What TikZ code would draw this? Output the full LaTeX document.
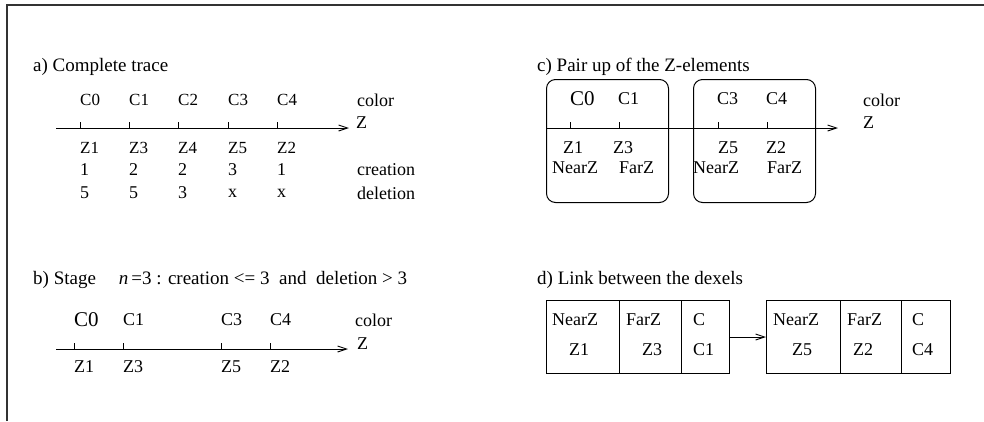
\documentclass[tikz,border=0pt]{standalone}
\usepackage{fontspec}
\setmainfont{Liberation Serif}
\usetikzlibrary{arrows.meta}

\begin{document}
\begin{tikzpicture}[x=1pt,y=-1pt,
  lbl/.style={anchor=west,inner sep=0pt,font=\fontsize{17}{17}\selectfont},
  lbm/.style={anchor=west,inner sep=0pt,font=\fontsize{18}{18}\selectfont},
  lbb/.style={anchor=west,inner sep=0pt,font=\fontsize{21}{21}\selectfont},
  ttl/.style={anchor=base west,inner sep=0pt,font=\fontsize{19}{19}\selectfont},
  axis/.style={line width=0.9pt,-{Straight Barb[length=9pt,width=6pt]}},
  tickmark/.style={line width=0.8pt},
  frameline/.style={line width=1.3pt,black!80},
  rbox/.style={draw,line width=1pt,rounded corners=9pt,minimum width=122pt,
    minimum height=123pt,anchor=north west,inner sep=0pt},
  cellbox/.style={draw,line width=1pt,minimum height=73pt,anchor=north west,inner sep=0pt},
  link/.style={line width=0.9pt,-{Straight Barb[length=9pt,width=6pt]}},
]
\useasboundingbox (0,0) rectangle (984,421);
\draw[frameline] (7,421) -- (7,5) -- (984,5);

% ---------- a) complete trace ----------
\node[ttl] (ta) at (33,71) {a) Complete trace};
\coordinate (aS) at (56,128);
\coordinate (aE) at (349,128);
\draw[axis] (aS) -- (aE);
\foreach \x in {80,129,178,228,277} \draw[tickmark] (\x,122) -- (\x,128);
\foreach \x/\t [count=\i] in {80/C0,129/C1,178/C2,228/C3,277/C4}
  \node[lbl] (aC\i) at (\x,100) {\t};
\foreach \x/\t [count=\i] in {80/Z1,129/Z3,178/Z4,228/Z5,277/Z2}
  \node[lbl] (aZ\i) at (\x,148) {\t};
\foreach \x/\t [count=\i] in {80/1,129/2,178/2,228/3,277/1}
  \node[lbm] (aN\i) at (\x,170) {\t};
\foreach \x/\t [count=\i] in {80/5,129/5,178/3,228/x,277/x}
  \node[lbm] (aD\i) at (\x,193) {\t};
\node[lbm] (acol) at (357,100) {color};
\node[lbm] (aZ) at (356,123) {Z};
\node[lbm] (acre) at (357,170) {creation};
\node[lbm] (adel) at (357,193) {deletion};

% ---------- b) stage n=3 ----------
\node[ttl] (tb) at (33,284) {b) Stage\hspace{1.2em}\textit{n}\,=3 : creation <= 3 \ and \ deletion > 3};
\coordinate (bS) at (56,349);
\coordinate (bE) at (348,349);
\draw[axis] (bS) -- (bE);
\foreach \x in {74,123,221,270} \draw[tickmark] (\x,343) -- (\x,349);
\node[lbb] (bC0) at (74,320) {C0};
\foreach \x/\t [count=\i] in {123/C1,221/C3,270/C4}
  \node[lbm] (bC\i) at (\x,320) {\t};
\foreach \x/\t [count=\i] in {74/Z1,123/Z3,221/Z5,270/Z2}
  \node[lbm] (bZ\i) at (\x,367) {\t};
\node[lbm] (bcol) at (355,320) {color};
\node[lbm] (bZ) at (357,344) {Z};

% ---------- c) pair up of the Z-elements ----------
\node[ttl] (tc) at (537,71) {c) Pair up of the Z-elements};
\node[rbox] (c1) at (546,79) {};
\node[rbox] (c2) at (693,79) {};
\coordinate (cE) at (838,128);
\draw[axis] (c1.west |- cE) -- (cE);
\foreach \x in {570,619,718,767} \draw[tickmark] (\x,122) -- (\x,128);
\node[lbb] (cC0) at (570,99) {C0};
\node[lbm] (cC1) at (618,99) {C1};
\node[lbm] (cC3) at (717,99) {C3};
\node[lbm] (cC4) at (766,99) {C4};
\node[lbm] (cZ1) at (563,148) {Z1};
\node[lbm] (cZ3) at (613,148) {Z3};
\node[lbm] (cZ5) at (718,148) {Z5};
\node[lbm] (cZ2) at (766,148) {Z2};
\node[lbm] (cN1) at (552,168) {NearZ};
\node[lbm] (cF1) at (619,168) {FarZ};
\node[lbm] (cN2) at (693,168) {NearZ};
\node[lbm] (cF2) at (767,168) {FarZ};
\node[lbm] (ccol) at (863,100) {color};
\node[lbm] (cZ) at (863,123) {Z};

% ---------- d) link between the dexels ----------
\node[ttl] (td) at (537,284) {d) Link between the dexels};
\node[cellbox,minimum width=183pt] (d1) at (546,300) {};
\node[cellbox,minimum width=184pt] (d2) at (766,300) {};
\draw[line width=1pt] ([xshift=73pt]d1.north west) -- ([xshift=73pt]d1.south west);
\draw[line width=1pt] ([xshift=135pt]d1.north west) -- ([xshift=135pt]d1.south west);
\draw[line width=1pt] ([xshift=74pt]d2.north west) -- ([xshift=74pt]d2.south west);
\draw[line width=1pt] ([xshift=135pt]d2.north west) -- ([xshift=135pt]d2.south west);
\draw[link] (d1.east) -- (d2.west);
\node[lbm] (dN1) at (552,320) {NearZ};
\node[lbm] (dZ1) at (569,350) {Z1};
\node[lbm] (dF1) at (626,320) {FarZ};
\node[lbm] (dZ3) at (642,350) {Z3};
\node[lbm] (dC1) at (693,320) {C};
\node[lbm] (dV1) at (693,350) {C1};
\node[lbm] (dN2) at (773,320) {NearZ};
\node[lbm] (dZ5) at (792,350) {Z5};
\node[lbm] (dF2) at (847,320) {FarZ};
\node[lbm] (dZ2) at (853,350) {Z2};
\node[lbm] (dC2) at (912,320) {C};
\node[lbm] (dV2) at (912,350) {C4};
\end{tikzpicture}
\end{document}
